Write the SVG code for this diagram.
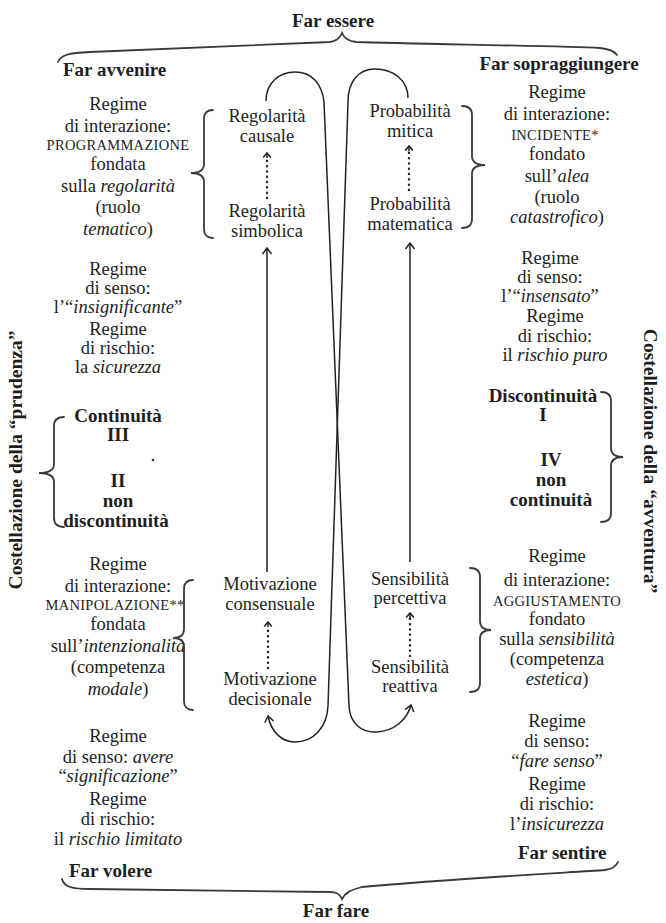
<svg xmlns="http://www.w3.org/2000/svg" width="666" height="923" viewBox="0 0 666 923">
<defs>
<style>
.t{font-family:"Liberation Serif","Times New Roman",serif;font-size:18.5px;fill:#1e1e1e;text-anchor:middle}
.s{text-anchor:start}
.b{font-weight:bold;font-size:19px}
.i{font-style:italic}
.sc{font-size:14.5px;letter-spacing:0.3px}
.v{font-family:"Liberation Serif","Times New Roman",serif;font-weight:bold;font-size:19.5px;fill:#1e1e1e;text-anchor:middle}
.ln{fill:none;stroke:#222;stroke-width:1.5}
.dt{fill:none;stroke:#222;stroke-width:2.4;stroke-dasharray:0.1 5.2;stroke-linecap:round}
.br{fill:none;stroke:#3a3a3a;stroke-width:1.8;stroke-linecap:round}
</style>
<marker id="ah" viewBox="-8 -6 10 12" markerWidth="10" markerHeight="12" refX="0" refY="0" orient="auto" markerUnits="userSpaceOnUse">
<path d="M-6,-4.5 L0,0 L-6,4.5" fill="none" stroke="#222" stroke-width="1.5"/>
</marker>
<marker id="ahs" viewBox="-8 -6 10 12" markerWidth="10" markerHeight="12" refX="0" refY="0" orient="auto" markerUnits="userSpaceOnUse">
<path d="M-4.5,-3.8 L0,0 L-4.5,3.8" fill="none" stroke="#222" stroke-width="1.6"/>
</marker>
</defs>
<rect width="666" height="923" fill="#ffffff"/>

<g id="far-essere">
<text class="t b" x="333" y="27">Far essere</text>
<path class="br" d="M58,62 C61,55 68,53 90,52 C200,48 300,44 330,42 C337,41 340,38 342,33 C344,38 348,41 356,42 C420,44 560,46 600,48 C610,49 614,51 617,55"/>
</g>
<g id="far-avvenire"><text class="t b s" x="63" y="76">Far avvenire</text></g>
<g id="far-sopraggiungere"><text class="t b" x="559" y="70">Far sopraggiungere</text></g>

<g id="regime-programmazione">
<text class="t" x="118" y="110">Regime</text>
<text class="t" x="118" y="132">di interazione:</text>
<text class="t sc" x="118" y="150">PROGRAMMAZIONE</text>
<text class="t" x="118" y="170">fondata</text>
<text class="t" x="118" y="192">sulla <tspan class="i">regolarità</tspan></text>
<text class="t" x="118" y="213">(ruolo</text>
<text class="t" x="118" y="235"><tspan class="i">tematico</tspan>)</text>
<path class="br" d="M213,110 Q204,110 204,119 L204,164 Q204,173 191,173 Q204,173 204,182 L204,229 Q204,238 213,238"/>
</g>
<g id="senso-insignificante">
<text class="t" x="118" y="275">Regime</text>
<text class="t" x="118" y="294">di senso:</text>
<text class="t" x="118" y="313">l’“<tspan class="i">insignificante</tspan>”</text>
</g>
<g id="rischio-sicurezza">
<text class="t" x="118" y="335">Regime</text>
<text class="t" x="118" y="354">di rischio:</text>
<text class="t" x="118" y="373">la <tspan class="i">sicurezza</tspan></text>
</g>
<g id="continuita">
<text class="t b" x="118" y="422">Continuità</text>
<text class="t b" x="118" y="441">III</text>
<circle cx="153" cy="460" r="1.3" fill="#333"/>
<text class="t b" x="118" y="487">II</text>
<text class="t b" x="118" y="507">non</text>
<text class="t b" x="116" y="527">discontinuità</text>
<path class="br" d="M64,417 Q54,417 54,426 L54,464 Q54,473 39,473 Q54,473 54,482 L54,518 Q54,527 64,527"/>
</g>
<g id="costellazione-prudenza">
<text class="v" transform="translate(22,460) rotate(-90)">Costellazione della “prudenza”</text>
</g>
<g id="regime-manipolazione">
<text class="t" x="118" y="570">Regime</text>
<text class="t" x="118" y="592">di interazione:</text>
<text class="t sc" x="115" y="610">MANIPOLAZIONE**</text>
<text class="t" x="118" y="630">fondata</text>
<text class="t" x="118" y="652">sull’<tspan class="i">intenzionalità</tspan></text>
<text class="t" x="118" y="673">(competenza</text>
<text class="t" x="118" y="695"><tspan class="i">modale</tspan>)</text>
<path class="br" d="M193,580 Q184,580 184,589 L184,629 Q184,638 173,638 Q184,638 184,647 L184,701 Q184,710 193,710"/>
</g>
<g id="senso-significazione">
<text class="t" x="118" y="742">Regime</text>
<text class="t" x="118" y="763">di senso: <tspan class="i">avere</tspan></text>
<text class="t" x="118" y="782">“<tspan class="i">significazione</tspan>”</text>
</g>
<g id="rischio-limitato">
<text class="t" x="118" y="805">Regime</text>
<text class="t" x="118" y="825">di rischio:</text>
<text class="t" x="118" y="845">il <tspan class="i">rischio limitato</tspan></text>
</g>
<g id="far-volere"><text class="t b s" x="69" y="877">Far volere</text></g>

<g id="regime-incidente">
<text class="t" x="557" y="98">Regime</text>
<text class="t" x="557" y="120">di interazione:</text>
<text class="t sc" x="555" y="140">INCIDENTE*</text>
<text class="t" x="557" y="160">fondato</text>
<text class="t" x="557" y="182">sull’<tspan class="i">alea</tspan></text>
<text class="t" x="557" y="203">(ruolo</text>
<text class="t" x="557" y="223"><tspan class="i">catastrofico</tspan>)</text>
<path class="br" d="M462,106 Q472,106 472,115 L472,156 Q472,165 485,165 Q472,165 472,174 L472,219 Q472,228 462,228"/>
</g>
<g id="senso-insensato">
<text class="t" x="550" y="264">Regime</text>
<text class="t" x="550" y="283">di senso:</text>
<text class="t" x="550" y="302">l’“<tspan class="i">insensato</tspan>”</text>
</g>
<g id="rischio-puro">
<text class="t" x="555" y="322">Regime</text>
<text class="t" x="555" y="342">di rischio:</text>
<text class="t" x="555" y="361">il <tspan class="i">rischio puro</tspan></text>
</g>
<g id="discontinuita">
<text class="t b" x="543" y="402">Discontinuità</text>
<text class="t b" x="543" y="421">I</text>
<text class="t b" x="551" y="466">IV</text>
<text class="t b" x="551" y="486">non</text>
<text class="t b" x="551" y="506">continuità</text>
<path class="br" d="M601,392 Q611,392 611,401 L611,448 Q611,457 623,457 Q611,457 611,466 L611,513 Q611,522 601,522"/>
</g>
<g id="costellazione-avventura">
<text class="v" transform="translate(644,461) rotate(90)">Costellazione della “avventura”</text>
</g>
<g id="regime-aggiustamento">
<text class="t" x="557" y="562">Regime</text>
<text class="t" x="557" y="586">di interazione:</text>
<text class="t sc" x="557" y="606">AGGIUSTAMENTO</text>
<text class="t" x="557" y="625">fondato</text>
<text class="t" x="557" y="645">sulla <tspan class="i">sensibilità</tspan></text>
<text class="t" x="557" y="665">(competenza</text>
<text class="t" x="557" y="685"><tspan class="i">estetica</tspan>)</text>
<path class="br" d="M470,568 Q480,568 480,577 L480,621 Q480,630 491,630 Q480,630 480,639 L480,683 Q480,692 470,692"/>
</g>
<g id="senso-fare-senso">
<text class="t" x="557" y="727">Regime</text>
<text class="t" x="557" y="747">di senso:</text>
<text class="t" x="557" y="767">“<tspan class="i">fare senso</tspan>”</text>
</g>
<g id="rischio-insicurezza">
<text class="t" x="557" y="790">Regime</text>
<text class="t" x="557" y="810">di rischio:</text>
<text class="t" x="557" y="830">l’<tspan class="i">insicurezza</tspan></text>
</g>
<g id="far-sentire"><text class="t b s" x="518" y="859">Far sentire</text></g>

<g id="far-fare">
<path class="br" d="M62,879 C64,887 72,889 90,889 C200,890 300,891 330,892 C337,892 340,894 342,899 C345,893 350,890 362,887 C450,879 560,873 605,870 C612,869 616,867 618,862"/>
<text class="t b" x="336" y="917">Far fare</text>
</g>

<g id="regolarita-causale"><text class="t" x="267" y="122">Regolarità</text><text class="t" x="267" y="142">causale</text></g>
<g id="regolarita-simbolica"><text class="t" x="267" y="217">Regolarità</text><text class="t" x="267" y="237">simbolica</text></g>
<g id="probabilita-mitica"><text class="t" x="410" y="117">Probabilità</text><text class="t" x="410" y="137">mitica</text></g>
<g id="probabilita-matematica"><text class="t" x="410" y="210">Probabilità</text><text class="t" x="410" y="230">matematica</text></g>
<g id="motivazione-consensuale"><text class="t" x="270" y="590">Motivazione</text><text class="t" x="270" y="610">consensuale</text></g>
<g id="motivazione-decisionale"><text class="t" x="270" y="685">Motivazione</text><text class="t" x="270" y="705">decisionale</text></g>
<g id="sensibilita-percettiva"><text class="t" x="410" y="585">Sensibilità</text><text class="t" x="410" y="604">percettiva</text></g>
<g id="sensibilita-reattiva"><text class="t" x="410" y="673">Sensibilità</text><text class="t" x="410" y="692">reattiva</text></g>

<g id="connectors">
<path class="dt" d="M267,198 L267,158"/>
<path class="ln" d="M267,158 L267,153" marker-end="url(#ahs)" stroke-width="0.1"/>
<path class="dt" d="M409,190 L409,151"/>
<path class="ln" d="M409,151 L409,146" marker-end="url(#ahs)" stroke-width="0.1"/>
<path class="dt" d="M268,668 L268,627"/>
<path class="ln" d="M268,627 L268,622" marker-end="url(#ahs)" stroke-width="0.1"/>
<path class="dt" d="M410,656 L410,618"/>
<path class="ln" d="M410,618 L410,613" marker-end="url(#ahs)" stroke-width="0.1"/>
<path class="ln" d="M267,572 L267,248" marker-end="url(#ah)"/>
<path class="ln" d="M410,562 L410,243" marker-end="url(#ah)"/>
<path class="ln" d="M266,101 C266,83 279,72 295,72 C312,72 322,84 324,102 L349,706 C350,723 361,733 377,732 C394,731 407,720 411,705" marker-end="url(#ah)"/>
<path class="ln" d="M408,98 C408,80 393,69 375,69 C358,69 348,82 348,102 L328,706 C327,728 313,742 295,742 C281,742 271,731 268,716" marker-end="url(#ah)"/>
</g>
</svg>
